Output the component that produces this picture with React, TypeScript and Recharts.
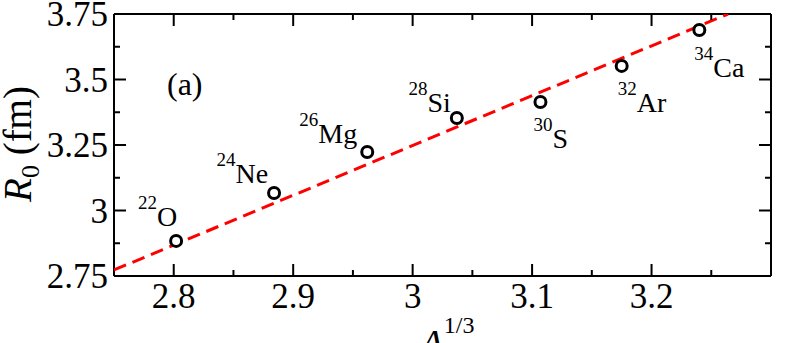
import React from 'react';
import { ScatterChart, Scatter, XAxis, YAxis } from 'recharts';

const elements = ['O', 'Ne', 'Mg', 'Si', 'S', 'Ar', 'Ca'];
const massNumbers = [22, 24, 26, 28, 30, 32, 34];
const cubeRootA = [2.802, 2.884, 2.962, 3.037, 3.107, 3.175, 3.24];
const radiusR0 = [2.884, 3.067, 3.223, 3.353, 3.414, 3.552, 3.689];

const fitX = [2.75, 3.264];
const fitY = [2.773, 3.75];

const xMajorTicks = [2.8, 2.9, 3, 3.1, 3.2];
const xMinorTicks = [2.85, 2.95, 3.05, 3.15, 3.25];
const yMajorTicks = [2.75, 3, 3.25, 3.5, 3.75];
const yMinorTicks = [2.875, 3.125, 3.375, 3.625];

// label placement per nucleus: anchor side, offset from point centre
const labelPlacement = [
  { anchor: 'end', dx: 1, dy: -15 },
  { anchor: 'end', dx: -6, dy: -10 },
  { anchor: 'end', dx: -10, dy: -9 },
  { anchor: 'end', dx: -6, dy: -6 },
  { anchor: 'start', dx: -7, dy: 46 },
  { anchor: 'start', dx: -4, dy: 46 },
  { anchor: 'start', dx: -5, dy: 47 },
];

const points = elements.map((el, i) => ({ x: cubeRootA[i], y: radiusR0[i], el, mass: massNumbers[i], i }));
const fitData = fitX.map((x, i) => ({ x, y: fitY[i] }));

const xTicks = [...xMajorTicks, ...xMinorTicks].sort((a, b) => a - b);
const yTicks = [...yMajorTicks, ...yMinorTicks].sort((a, b) => a - b);

const FONT = '"Liberation Serif", "Times New Roman", serif';
const isMajor = (v: number, list: number[]) => list.some((m) => Math.abs(m - v) < 1e-6);

const BottomTick = (props: any) => {
  const { x, y, payload } = props;
  const major = isMajor(payload.value, xMajorTicks);
  return (
    <g>
      <line x1={x} x2={x} y1={y} y2={y - (major ? 12 : 6)} stroke="#000" strokeWidth={2} />
      {major && (
        <text x={x} y={y + 32} textAnchor="middle" fontSize={35} fontFamily={FONT} fill="#000">
          {payload.value}
        </text>
      )}
    </g>
  );
};

const TopTick = (props: any) => {
  const { x, y, payload } = props;
  const major = isMajor(payload.value, xMajorTicks);
  return <line x1={x} x2={x} y1={y} y2={y + (major ? 12 : 6)} stroke="#000" strokeWidth={2} />;
};

const LeftTick = (props: any) => {
  const { x, y, payload } = props;
  const major = isMajor(payload.value, yMajorTicks);
  return (
    <g>
      <line x1={x} x2={x + (major ? 12 : 6)} y1={y} y2={y} stroke="#000" strokeWidth={2} />
      {major && (
        <text x={x - 6} y={y + 12} textAnchor="end" fontSize={35} fontFamily={FONT} fill="#000">
          {payload.value}
        </text>
      )}
    </g>
  );
};

const RightTick = (props: any) => {
  const { x, y, payload } = props;
  const major = isMajor(payload.value, yMajorTicks);
  return <line x1={x} x2={x - (major ? 12 : 6)} y1={y} y2={y} stroke="#000" strokeWidth={2} />;
};

const NucleusPoint = (props: any) => {
  const { cx, cy, payload } = props;
  const p = labelPlacement[payload.i];
  return (
    <g>
      <circle cx={cx} cy={cy} r={5.5} fill="#fff" stroke="#000" strokeWidth={3} />
      <text x={cx + p.dx} y={cy + p.dy} textAnchor={p.anchor} fontFamily={FONT} fill="#000">
        <tspan fontSize={19} dy={-17}>{payload.mass}</tspan>
        <tspan fontSize={28} dy={17}>{payload.el}</tspan>
      </text>
    </g>
  );
};

const axisLine = { stroke: '#000', strokeWidth: 2 };

const App: React.FC = () => {
  return (
    <div style={{ position: 'absolute', left: 0, top: 0, width: 789, height: 343, background: '#fff' }}>
      <ScatterChart width={789} height={343} margin={{ top: 13, right: 17, bottom: 66, left: 113 }}>
        <XAxis
          type="number"
          dataKey="x"
          domain={[2.75, 3.3]}
          ticks={xTicks}
          interval={0}
          height={1}
          tickSize={0}
          tickMargin={0}
          tickLine={false}
          axisLine={axisLine}
          tick={BottomTick}
          allowDataOverflow
        />
        <XAxis
          xAxisId="top"
          orientation="top"
          type="number"
          dataKey="x"
          domain={[2.75, 3.3]}
          ticks={xTicks}
          interval={0}
          height={1}
          tickSize={0}
          tickMargin={0}
          tickLine={false}
          axisLine={axisLine}
          tick={TopTick}
          allowDataOverflow
        />
        <YAxis
          type="number"
          dataKey="y"
          domain={[2.75, 3.75]}
          ticks={yTicks}
          interval={0}
          width={1}
          tickSize={0}
          tickMargin={0}
          tickLine={false}
          axisLine={axisLine}
          tick={LeftTick}
          allowDataOverflow
        />
        <YAxis
          yAxisId="right"
          orientation="right"
          type="number"
          dataKey="y"
          domain={[2.75, 3.75]}
          ticks={yTicks}
          interval={0}
          width={1}
          tickSize={0}
          tickMargin={0}
          tickLine={false}
          axisLine={axisLine}
          tick={RightTick}
          allowDataOverflow
        />
        <Scatter
          data={fitData}
          line={{ stroke: '#ff0000', strokeWidth: 3, strokeDasharray: '13 7' }}
          shape={() => <g />}
          isAnimationActive={false}
        />
        <Scatter data={points} shape={NucleusPoint} isAnimationActive={false} />
      </ScatterChart>
      <svg
        width={789}
        height={343}
        style={{ position: 'absolute', left: 0, top: 0, pointerEvents: 'none' }}
        fontFamily={FONT}
      >
        <text x={167} y={95} fontSize={32} fill="#000">(a)</text>
        <text transform="translate(31,144) rotate(-90)" textAnchor="middle" fontSize={39} fill="#000">
          <tspan fontStyle="italic">R</tspan>
          <tspan fontSize={26} dy={8}>0</tspan>
          <tspan dy={-8}>{'\u00a0(fm)'}</tspan>
        </text>
        <text x={420} y={357} fontSize={39} fill="#000">
          <tspan fontStyle="italic">A</tspan>
          <tspan fontSize={24} dy={-24}>1/3</tspan>
        </text>
      </svg>
    </div>
  );
};

export default App;
